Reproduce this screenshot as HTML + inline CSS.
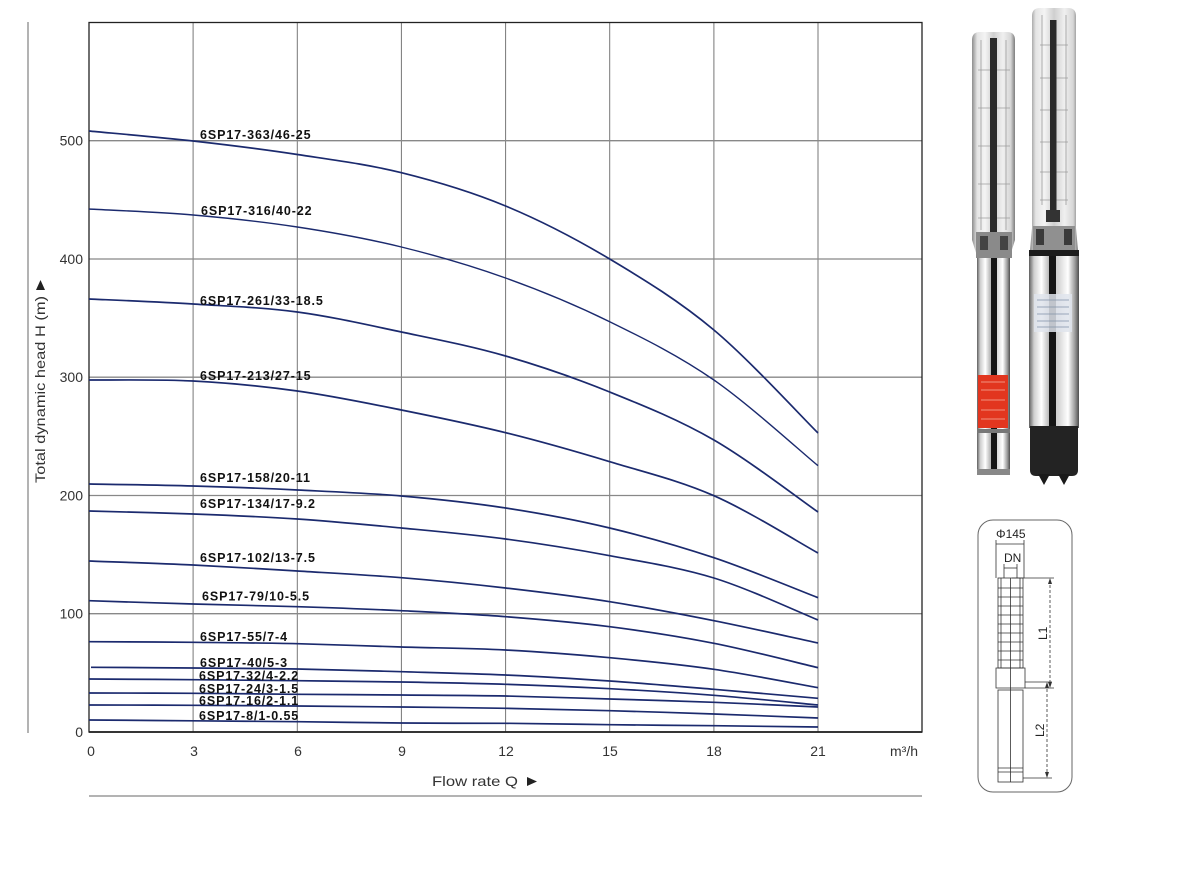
<!DOCTYPE html>
<html><head><meta charset="utf-8"><style>
html,body{margin:0;padding:0;background:#fff;}
svg{display:block;}
.c{fill:none;stroke:#1b2a6e;stroke-width:1.7;stroke-linejoin:round;stroke-linecap:butt;}
.lb{font-family:"Liberation Sans",Arial,sans-serif;font-weight:bold;font-size:12.5px;letter-spacing:0.9px;fill:#111;}
.tk{font-family:"Liberation Sans",Arial,sans-serif;font-size:14px;fill:#333;}
.dg{font-family:"Liberation Sans",Arial,sans-serif;font-size:12px;fill:#222;}
</style></head><body>
<svg width="1200" height="872" viewBox="0 0 1200 872" xmlns="http://www.w3.org/2000/svg">
<defs>
<linearGradient id="pe" x1="0" x2="1" y1="0" y2="0">
<stop offset="0" stop-color="#8d8d8d"/><stop offset="0.12" stop-color="#e4e4e4"/><stop offset="0.3" stop-color="#f4f4f4"/><stop offset="0.5" stop-color="#cfcfcf"/><stop offset="0.72" stop-color="#f0f0f0"/><stop offset="0.9" stop-color="#d6d6d6"/><stop offset="1" stop-color="#7d7d7d"/>
</linearGradient>
<linearGradient id="mt" x1="0" x2="1" y1="0" y2="0">
<stop offset="0" stop-color="#5f5f5f"/><stop offset="0.1" stop-color="#cfcfcf"/><stop offset="0.25" stop-color="#ffffff"/><stop offset="0.4" stop-color="#b8b8b8"/><stop offset="0.6" stop-color="#d8d8d8"/><stop offset="0.78" stop-color="#ffffff"/><stop offset="0.92" stop-color="#9a9a9a"/><stop offset="1" stop-color="#4f4f4f"/>
</linearGradient>
</defs>

<!-- outer gray lines -->
<line x1="28" y1="22" x2="28" y2="733" stroke="#9a9a9a" stroke-width="1.5"/>
<line x1="89" y1="796" x2="922" y2="796" stroke="#9a9a9a" stroke-width="1.5"/>

<!-- grid -->
<g stroke="#777" stroke-width="1">
<line x1="193.1" y1="22" x2="193.1" y2="732"/>
<line x1="297.3" y1="22" x2="297.3" y2="732"/>
<line x1="401.4" y1="22" x2="401.4" y2="732"/>
<line x1="505.6" y1="22" x2="505.6" y2="732"/>
<line x1="609.7" y1="22" x2="609.7" y2="732"/>
<line x1="713.9" y1="22" x2="713.9" y2="732"/>
<line x1="818" y1="22" x2="818" y2="732"/>
</g>
<g stroke="#888" stroke-width="1.3">
<line x1="89" y1="140.7" x2="922" y2="140.7"/>
<line x1="89" y1="259" x2="922" y2="259"/>
<line x1="89" y1="377.2" x2="922" y2="377.2"/>
<line x1="89" y1="495.5" x2="922" y2="495.5"/>
<line x1="89" y1="613.7" x2="922" y2="613.7"/>
</g>
<rect x="89" y="22.5" width="833" height="709.5" fill="none" stroke="#222" stroke-width="1.3"/>
<line x1="89" y1="732" x2="922" y2="732" stroke="#222" stroke-width="1.8"/>

<!-- curves -->
<path class="c" d="M89,131 C106.4,132.7 158.4,137.1 193.1,141 S262.6,149.2 297.3,154.5 S366.7,164.1 401.4,172.7 S470.9,191.6 505.6,206 S575,238.3 609.7,259 S679.2,301 713.9,330 S800.6,415.8 818,433"/>
<path class="c" style="stroke-width:1.4" d="M89,209 C106.4,210 158.4,212 193.1,215 S262.6,221.7 297.3,227 S366.7,238.5 401.4,247 S470.9,265.6 505.6,278 S575,304.7 609.7,321.7 S679.2,356 713.9,380 S800.6,451.4 818,465.7"/>
<path class="c" d="M89,299 C106.4,299.8 158.4,301.8 193.1,304 S262.6,307.3 297.3,312 S366.7,324.7 401.4,332 S470.9,346 505.6,356 S575,378 609.7,392 S679.2,420 713.9,440 S800.6,500 818,512"/>
<path class="c" d="M89,380 C106.4,380.2 158.4,379.2 193.1,381 S262.6,386.2 297.3,391 S366.7,403 401.4,410 S470.9,424.1 505.6,432.7 S575,451.2 609.7,461.7 S679.2,480.5 713.9,495.7 S800.6,543.5 818,553"/>
<path class="c" d="M89,484 C106.4,484.3 158.4,485 193.1,486 S262.6,488.3 297.3,490 S366.7,493 401.4,496 S470.9,502.7 505.6,508 S575,519.7 609.7,528 S679.2,546.1 713.9,557.7 S800.6,591 818,597.7"/>
<path class="c" d="M89,511 C106.4,511.5 158.4,512.7 193.1,514 S262.6,516.7 297.3,519 S366.7,524.7 401.4,528 S470.9,534.4 505.6,539 S575,549.2 609.7,555.7 S679.2,567.3 713.9,578 S800.6,613 818,620"/>
<path class="c" d="M89,561 C106.4,561.7 158.4,563.3 193.1,565 S262.6,568.9 297.3,571 S366.7,574.9 401.4,577.7 S470.9,584 505.6,588 S575,596.2 609.7,601.7 S679.2,613.8 713.9,620.7 S800.6,639.3 818,643"/>
<path class="c" d="M89,600.7 C106.4,601.3 158.4,603 193.1,604 S262.6,605.6 297.3,606.7 S366.7,609 401.4,610.7 S470.9,614 505.6,616.7 S575,622.3 609.7,626.7 S679.2,636.5 713.9,643.3 S800.6,663.6 818,667.7"/>
<path class="c" d="M89,641.7 C106.4,641.8 158.4,642 193.1,642.3 S262.6,642.9 297.3,643.7 S366.7,646 401.4,647 S470.9,648.2 505.6,650 S575,654.5 609.7,657.7 S679.2,664.3 713.9,669.3 S800.6,684.6 818,687.7"/>
<path class="c" d="M91,667.3 C108,667.4 158.7,667.7 193.1,668 S262.6,668.4 297.3,669 S366.7,670.7 401.4,671.7 S470.9,673.5 505.6,675 S575,678.6 609.7,681 S679.2,686.4 713.9,689.3 S800.6,696.8 818,698.3"/>
<path class="c" d="M89,679 C106.4,679.1 158.4,679.4 193.1,679.7 S262.6,680.3 297.3,680.7 S366.7,681.4 401.4,682 S470.9,683.2 505.6,684.3 S575,686.9 609.7,688.7 S679.2,692.6 713.9,695.3 S800.6,703.4 818,705"/>
<path class="c" d="M89,693 C106.4,693.05 158.4,693.1 193.1,693.3 S262.6,694 297.3,694.3 S366.7,694.7 401.4,695 S470.9,695.3 505.6,696 S575,698 609.7,699 S679.2,701 713.9,702.3 S800.6,706.2 818,707"/>
<path class="c" d="M89,705 C106.4,705.05 158.4,705.1 193.1,705.3 S262.6,705.7 297.3,706 S366.7,706.6 401.4,707 S470.9,707.7 505.6,708.3 S575,709.8 609.7,710.7 S679.2,712.8 713.9,714 S800.6,717.3 818,718"/>
<path class="c" d="M89,720 C106.4,720.1 158.4,720.5 193.1,720.8 S262.6,721.3 297.3,721.7 S366.7,722.6 401.4,723 S470.9,723.1 505.6,723.3 S575,724.2 609.7,724.7 S679.2,725.3 713.9,725.7 S800.6,726.8 818,727"/>

<!-- curve labels -->
<text class="lb" x="200" y="139">6SP17-363/46-25</text>
<text class="lb" x="201" y="215">6SP17-316/40-22</text>
<text class="lb" x="200" y="305">6SP17-261/33-18.5</text>
<text class="lb" x="200" y="380">6SP17-213/27-15</text>
<text class="lb" x="200" y="482">6SP17-158/20-11</text>
<text class="lb" x="200" y="508">6SP17-134/17-9.2</text>
<text class="lb" x="200" y="562">6SP17-102/13-7.5</text>
<text class="lb" x="202" y="600.5">6SP17-79/10-5.5</text>
<text class="lb" x="200" y="641">6SP17-55/7-4</text>
<text class="lb" x="200" y="667">6SP17-40/5-3</text>
<text class="lb" x="199" y="680">6SP17-32/4-2.2</text>
<text class="lb" x="199" y="693">6SP17-24/3-1.5</text>
<text class="lb" x="199" y="705">6SP17-16/2-1.1</text>
<text class="lb" x="199" y="720">6SP17-8/1-0.55</text>

<!-- y ticks -->
<g class="tk" text-anchor="end">
<text x="83" y="737">0</text>
<text x="83" y="618.7">100</text>
<text x="83" y="500.5">200</text>
<text x="83" y="382.2">300</text>
<text x="83" y="264">400</text>
<text x="83" y="145.7">500</text>
</g>
<!-- x ticks -->
<g class="tk" text-anchor="middle">
<text x="91" y="756">0</text>
<text x="194" y="756">3</text>
<text x="298" y="756">6</text>
<text x="402" y="756">9</text>
<text x="506" y="756">12</text>
<text x="610" y="756">15</text>
<text x="714" y="756">18</text>
<text x="818" y="756">21</text>
</g>
<text class="tk" x="890" y="756">m³/h</text>

<!-- axis titles -->
<text class="tk" x="432" y="786" textLength="86" lengthAdjust="spacingAndGlyphs">Flow rate Q</text>
<polygon points="527,777 537,781.5 527,786" fill="#222"/>
<text class="tk" transform="translate(45,483) rotate(-90)" x="0" y="0" textLength="187" lengthAdjust="spacingAndGlyphs">Total dynamic head H (m)</text>
<polygon points="36,290 40.5,280 45,290" fill="#222"/>

<!-- Pump 1 -->
<g>
<path d="M972,40 Q972,32 980,32 L1007,32 Q1015,32 1015,40 L1015,240 L1010,256 L977,256 L972,240 Z" fill="url(#pe)"/>
<g stroke="#9c9c9c" stroke-width="0.8">
<line x1="978" y1="70" x2="1010" y2="70"/><line x1="978" y1="108" x2="1010" y2="108"/><line x1="978" y1="146" x2="1010" y2="146"/><line x1="978" y1="184" x2="1010" y2="184"/><line x1="978" y1="218" x2="1010" y2="218"/>
<line x1="981" y1="40" x2="981" y2="230"/><line x1="1006" y1="40" x2="1006" y2="230"/>
</g>
<rect x="990" y="38" width="7" height="205" fill="#2a2a2a"/>
<rect x="976" y="232" width="36" height="26" fill="#8a8a8a"/>
<rect x="980" y="236" width="8" height="14" fill="#444"/><rect x="1000" y="236" width="8" height="14" fill="#444"/>
<rect x="977" y="258" width="33" height="216" fill="url(#mt)"/>
<rect x="991" y="258" width="6" height="216" fill="#151515"/>
<rect x="978" y="375" width="30" height="53" fill="#e2361f"/>
<g stroke="#f5b0a0" stroke-width="0.7"><line x1="981" y1="382" x2="1005" y2="382"/><line x1="981" y1="390" x2="1005" y2="390"/><line x1="981" y1="400" x2="1005" y2="400"/><line x1="981" y1="410" x2="1005" y2="410"/><line x1="981" y1="419" x2="1005" y2="419"/></g>
<rect x="977" y="429" width="33" height="4" fill="#777"/>
<rect x="977" y="469" width="33" height="6" fill="#888"/>
</g>

<!-- Pump 2 -->
<g>
<path d="M1032,16 Q1032,8 1040,8 L1068,8 Q1076,8 1076,16 L1076,228 L1078,250 L1030,250 L1032,228 Z" fill="url(#pe)"/>
<g stroke="#9c9c9c" stroke-width="0.8">
<line x1="1040" y1="45" x2="1068" y2="45"/><line x1="1040" y1="78" x2="1068" y2="78"/><line x1="1040" y1="110" x2="1068" y2="110"/><line x1="1040" y1="142" x2="1068" y2="142"/><line x1="1040" y1="172" x2="1068" y2="172"/><line x1="1040" y1="200" x2="1068" y2="200"/>
<line x1="1042" y1="15" x2="1042" y2="205"/><line x1="1066" y1="15" x2="1066" y2="205"/>
</g>
<rect x="1050" y="20" width="6.5" height="200" fill="#2a2a2a"/>
<rect x="1046" y="210" width="14" height="12" fill="#333"/>
<rect x="1033" y="226" width="42" height="24" fill="#909090"/>
<rect x="1036" y="229" width="8" height="16" fill="#3a3a3a"/><rect x="1064" y="229" width="8" height="16" fill="#3a3a3a"/>
<rect x="1029" y="250" width="50" height="178" fill="url(#mt)"/>
<rect x="1029" y="250" width="50" height="6" fill="#1c1c1c"/>
<rect x="1049" y="256" width="7" height="172" fill="#151515"/>
<rect x="1034" y="294" width="38" height="38" fill="#dfe4ec" opacity="0.85"/>
<g stroke="#8090a8" stroke-width="0.7"><line x1="1037" y1="300" x2="1069" y2="300"/><line x1="1037" y1="307" x2="1069" y2="307"/><line x1="1037" y1="314" x2="1069" y2="314"/><line x1="1037" y1="321" x2="1069" y2="321"/><line x1="1037" y1="327" x2="1069" y2="327"/></g>
<path d="M1030,426 L1078,426 L1078,470 Q1078,476 1072,476 L1036,476 Q1030,476 1030,470 Z" fill="#232323"/>
<path d="M1038,474 L1044,485 L1050,474 Z M1058,474 L1064,485 L1070,474 Z" fill="#1a1a1a"/>
</g>

<!-- Dimension diagram -->
<rect x="978" y="520" width="94" height="272" rx="15" ry="15" fill="none" stroke="#666" stroke-width="1"/>
<text class="dg" x="996" y="538">Φ145</text>
<g stroke="#333" stroke-width="0.8" fill="none">
<line x1="996" y1="544" x2="1024" y2="544"/>
<line x1="996" y1="540" x2="996" y2="578"/><line x1="1024" y1="540" x2="1024" y2="578"/>
<line x1="1004" y1="568" x2="1017" y2="568"/>
<line x1="1004" y1="564" x2="1004" y2="578"/><line x1="1017" y1="564" x2="1017" y2="578"/>
<rect x="998" y="578" width="25" height="90"/>
<line x1="1001" y1="578" x2="1001" y2="668"/><line x1="1020" y1="578" x2="1020" y2="668"/>
<line x1="1010.5" y1="578" x2="1010.5" y2="782"/>
<line x1="998" y1="588" x2="1023" y2="588"/><line x1="998" y1="597" x2="1023" y2="597"/><line x1="998" y1="606" x2="1023" y2="606"/><line x1="998" y1="615" x2="1023" y2="615"/><line x1="998" y1="624" x2="1023" y2="624"/><line x1="998" y1="633" x2="1023" y2="633"/><line x1="998" y1="642" x2="1023" y2="642"/><line x1="998" y1="651" x2="1023" y2="651"/><line x1="998" y1="660" x2="1023" y2="660"/>
<path d="M996,668 L1025,668 L1025,688 L996,688 Z"/>
<rect x="998" y="690" width="25" height="92"/>
<line x1="998" y1="768" x2="1023" y2="768"/><line x1="998" y1="772" x2="1023" y2="772"/>
<line x1="1012" y1="578" x2="1054" y2="578"/>
<line x1="1050" y1="580" x2="1050" y2="686" stroke-dasharray="3,2"/>
<line x1="1025" y1="688" x2="1054" y2="688"/>
<line x1="1025" y1="682" x2="1052" y2="682"/>
<line x1="1047" y1="684" x2="1047" y2="776" stroke-dasharray="3,2"/>
<line x1="1023" y1="778" x2="1052" y2="778"/>
</g>
<g fill="#333">
<polygon points="1048,584 1050,578 1052,584"/><polygon points="1048,682 1050,688 1052,682"/>
<polygon points="1045,688 1047,682 1049,688"/><polygon points="1045,772 1047,778 1049,772"/>
</g>
<text class="dg" x="1004" y="562" font-size="11">DN</text>
<text class="dg" transform="translate(1047,640) rotate(-90)">L1</text>
<text class="dg" transform="translate(1044,737) rotate(-90)">L2</text>
</svg>
</body></html>
